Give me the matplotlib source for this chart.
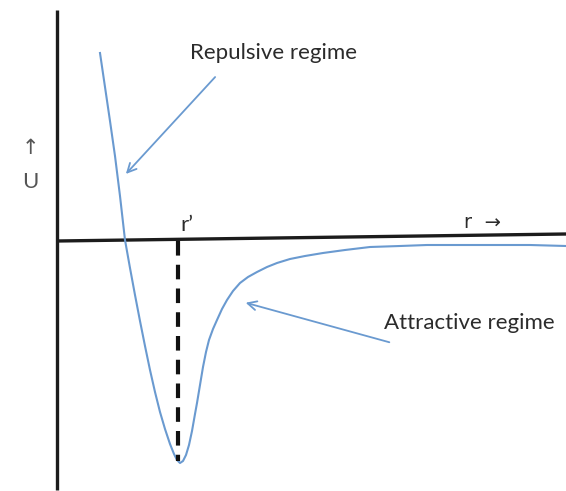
import matplotlib
matplotlib.use("Agg")
import matplotlib.pyplot as plt

# curve samples (pixel coords)
r_px = [100, 105, 110, 115, 120, 125, 130, 135, 140, 145, 150, 155, 160, 165,
        170, 174, 177, 180, 183, 186, 189, 192, 195, 197, 199, 201, 203, 206,
        209, 213, 217, 222, 227, 233, 240, 248, 257, 267, 277, 290, 305, 323,
        345, 370, 400, 427, 460, 493, 530, 566]
u_px = [53, 87, 121, 156, 196, 240, 268, 295, 321, 346, 370, 392, 412, 429,
        444, 454, 460, 463, 461, 455, 445, 431, 414, 403, 391, 379, 367, 352,
        340, 329, 320, 309, 300, 291, 283, 277, 272, 267, 263, 259, 256, 253,
        250, 247, 246, 245, 245, 245, 245, 246]

ORIGIN_X, ORIGIN_Y = 57, 241
r = [x - ORIGIN_X for x in r_px]
U = [ORIGIN_Y - y for y in u_px]

r_min = 180 - ORIGIN_X
U_min = ORIGIN_Y - 463

fig = plt.figure(figsize=(5.66, 4.91), dpi=100)
ax = fig.add_axes([0, 0, 1, 1])
ax.set_xlim(-ORIGIN_X, 566 - ORIGIN_X)
ax.set_ylim(ORIGIN_Y - 491, ORIGIN_Y)
ax.axis("off")

axcol = "#1c1c1c"
ax.plot([0, 0], [ORIGIN_Y - 490, ORIGIN_Y - 10], color=axcol, lw=2.4, solid_capstyle="butt")
ax.plot([0, 566 - ORIGIN_X], [0, 7], color=axcol, lw=2.4, solid_capstyle="butt")

ax.plot(r, U, color="#6a9ad0", lw=1.5, solid_joinstyle="round")

ax.plot([r_min - 2, r_min - 2], [0.5, U_min + 2], color="#111111", lw=3,
        dashes=(3.5, 2.2))

font = "Lato"
tcol = "#2b2b2b"
fs = 16
ax.text(273 - ORIGIN_X, ORIGIN_Y - 53, "Repulsive regime", fontsize=fs,
        family=font, color=tcol, ha="center", va="center")
ax.text(469 - ORIGIN_X, ORIGIN_Y - 323, "Attractive regime", fontsize=fs,
        family=font, color=tcol, ha="center", va="center")
ax.text(187 - ORIGIN_X, ORIGIN_Y - 225, "r\u2019", fontsize=fs,
        family=font, color=tcol, ha="center", va="center")
ax.text(482 - ORIGIN_X, ORIGIN_Y - 223, "r  \u2192", fontsize=14,
        family=["DejaVu Sans"], color=tcol, ha="center", va="center")
ax.text(30 - ORIGIN_X, ORIGIN_Y - 148, "\u2191", fontsize=15,
        family=["DejaVu Sans"], color="#555555", ha="center", va="center")
ax.text(30 - ORIGIN_X, ORIGIN_Y - 182, "U", fontsize=fs,
        family=font, color="#555555", ha="center", va="center")

arrowcol = "#6a9ad0"
ax.annotate("", xy=(124 - ORIGIN_X, ORIGIN_Y - 176),
            xytext=(217 - ORIGIN_X, ORIGIN_Y - 75),
            arrowprops=dict(arrowstyle="->", color=arrowcol, lw=1.3,
                            mutation_scale=16))
ax.annotate("", xy=(243 - ORIGIN_X, ORIGIN_Y - 302),
            xytext=(392 - ORIGIN_X, ORIGIN_Y - 343),
            arrowprops=dict(arrowstyle="->", color=arrowcol, lw=1.3,
                            mutation_scale=16))

fig.savefig("out.png", dpi=100, facecolor="white")
